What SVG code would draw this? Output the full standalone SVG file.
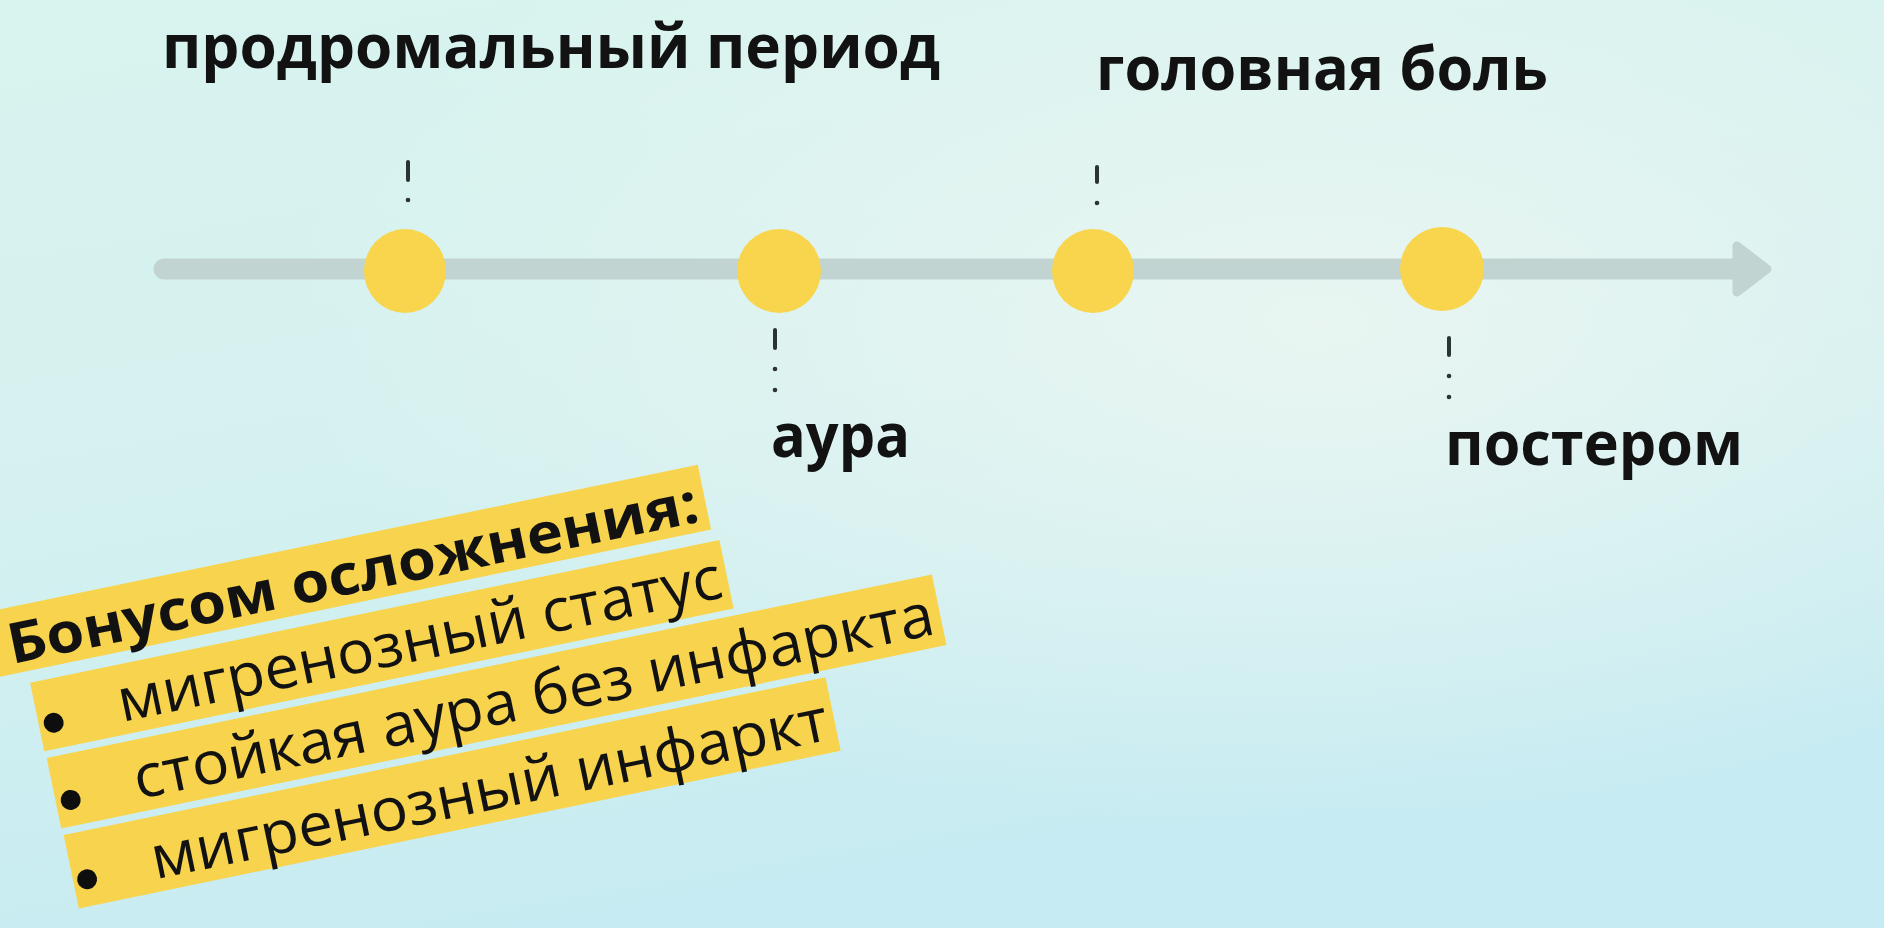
<svg xmlns="http://www.w3.org/2000/svg" width="1884" height="928" viewBox="0 0 1884 928">
  <defs>
    <linearGradient id="bg" x1="0" y1="0" x2="0.35" y2="1">
      <stop offset="0" stop-color="#d9f4ef"/>
      <stop offset="0.5" stop-color="#d4f1f0"/>
      <stop offset="1" stop-color="#c6ebf2"/>
    </linearGradient>
    <radialGradient id="glow" cx="0.7" cy="0.35" r="0.55">
      <stop offset="0" stop-color="#ebf6f2" stop-opacity="0.9"/>
      <stop offset="1" stop-color="#ebf6f2" stop-opacity="0"/>
    </radialGradient>
    <style>
      .lbl { font-family: "Open Sans", "Noto Sans", "Liberation Sans", sans-serif; font-weight: 700; font-size: 60px; fill: #121212; }
      .title { font-family: "Open Sans", "Noto Sans", "Liberation Sans", sans-serif; font-weight: 700; font-size: 56px; fill: #121212; }
      .item { font-family: "Open Sans", "Noto Sans", "Liberation Sans", sans-serif; font-weight: 400; font-size: 60px; fill: #121212; }
      .dot { fill: #f8d54c; }
      .band { fill: #f8d44e; }
      .tick { stroke: #2c3333; stroke-width: 4; stroke-linecap: round; }
      .tickdot { fill: #2c3333; }
      .bullet { fill: #0e0e0e; }
    </style>
  </defs>

  <rect width="1884" height="928" fill="url(#bg)"/>
  <rect width="1884" height="928" fill="url(#glow)"/>

  <!-- connectors: timeline axis and tick marks -->
  <g id="connectors">
    <line x1="164" y1="269" x2="1745" y2="269" stroke="#c2d4d2" stroke-width="21" stroke-linecap="round"/>
    <polygon points="1737,246 1767,269 1737,292" fill="#c2d4d2" stroke="#c2d4d2" stroke-width="9" stroke-linejoin="round"/>
    <line class="tick" x1="408" y1="162" x2="408" y2="180"/>
    <circle class="tickdot" cx="408" cy="200" r="2.3"/>
    <line class="tick" x1="1097" y1="167" x2="1097" y2="182"/>
    <circle class="tickdot" cx="1097" cy="203" r="2.3"/>
    <line class="tick" x1="775" y1="330" x2="775" y2="348"/>
    <circle class="tickdot" cx="775" cy="369" r="2.3"/>
    <circle class="tickdot" cx="775" cy="390" r="2.3"/>
    <line class="tick" x1="1449" y1="338" x2="1449" y2="355"/>
    <circle class="tickdot" cx="1449" cy="376" r="2.3"/>
    <circle class="tickdot" cx="1449" cy="397" r="2.3"/>
  </g>

  <g id="node-prodromal">
    <ellipse class="dot" cx="405" cy="271" rx="41" ry="42"/>
    <text class="lbl" x="162" y="68" textLength="778" lengthAdjust="spacingAndGlyphs">продромальный период</text>
  </g>
  <g id="node-aura">
    <ellipse class="dot" cx="779" cy="271" rx="42" ry="42"/>
    <text class="lbl" x="771" y="457" textLength="139" lengthAdjust="spacingAndGlyphs">аура</text>
  </g>
  <g id="node-headache">
    <ellipse class="dot" cx="1093" cy="271" rx="41" ry="42"/>
    <text class="lbl" x="1096" y="90" textLength="452" lengthAdjust="spacingAndGlyphs">головная боль</text>
  </g>
  <g id="node-postdrome">
    <ellipse class="dot" cx="1442" cy="269" rx="42" ry="42"/>
    <text class="lbl" x="1445" y="465" textLength="298" lengthAdjust="spacingAndGlyphs">постером</text>
  </g>

  <g id="complications" transform="translate(6,606) rotate(-11.7)">
    <rect class="band" x="-40" y="2" width="746" height="66"/>
    <rect class="band" x="8" y="80" width="704" height="70"/>
    <rect class="band" x="9" y="157" width="904" height="72"/>
    <rect class="band" x="10" y="236" width="778" height="75"/>
    <text class="title" x="-6" y="58" textLength="704" lengthAdjust="spacingAndGlyphs">Бонусом осложнения:</text>
    <circle class="bullet" cx="23" cy="124" r="10"/>
    <text class="item" x="90" y="137" textLength="616" lengthAdjust="spacingAndGlyphs">мигренозный статус</text>
    <circle class="bullet" cx="24" cy="203" r="10"/>
    <text class="item" x="90" y="216" textLength="816" lengthAdjust="spacingAndGlyphs">стойкая аура без инфаркта</text>
    <circle class="bullet" cx="24" cy="284" r="10"/>
    <text class="item" x="91" y="298" textLength="690" lengthAdjust="spacingAndGlyphs">мигренозный инфаркт</text>
  </g>
</svg>
